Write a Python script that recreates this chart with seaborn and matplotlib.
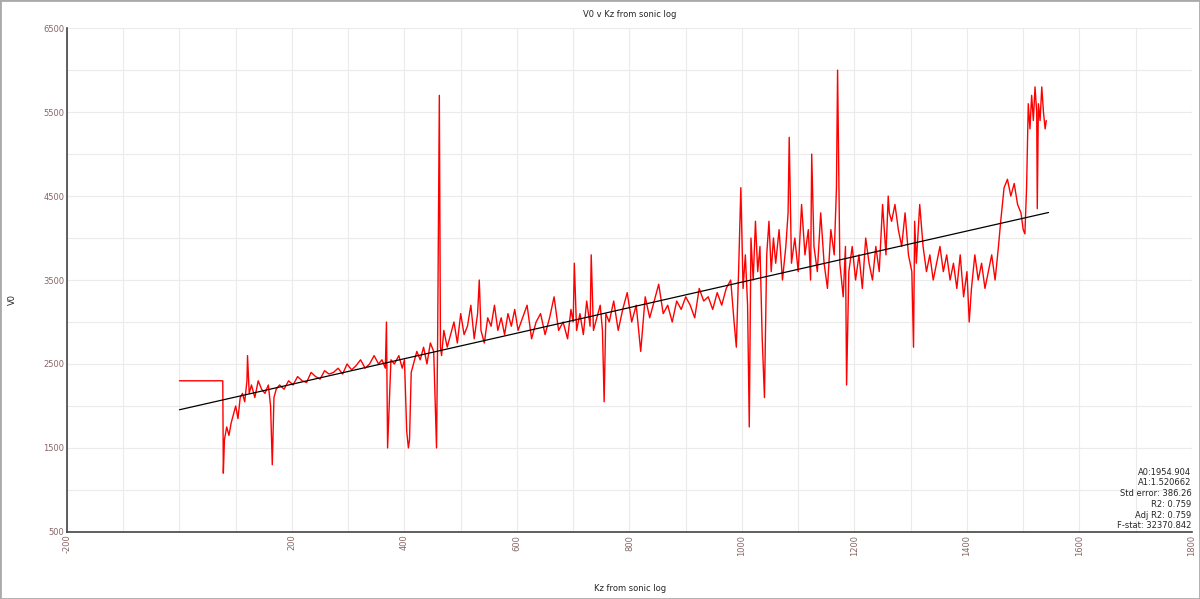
import matplotlib
matplotlib.use("Agg")
import matplotlib.pyplot as plt
import seaborn as sns
import numpy as np
import pandas as pd

kz = [0, 77, 78, 80, 84, 88, 92, 96, 100, 104, 108, 112, 116, 120, 121, 124, 128, 134, 140, 146, 152, 158, 162, 165, 168, 172, 178,
      186, 194, 202, 210, 218, 226, 234, 242, 250, 258, 266, 274, 282, 290, 298, 306, 314, 322, 330, 338, 346, 354, 360, 366, 368, 370,
      376, 382, 390, 396, 400, 404, 407, 409, 412, 416, 422, 428, 434, 440, 446, 452, 457, 459, 462, 464, 466, 470,
      476, 482, 488, 494, 500, 506, 512, 518, 524, 530, 533, 536, 542, 548, 554, 560, 566, 572, 578, 584, 590, 596,
      602, 610, 618, 626, 634, 642, 650, 658, 666, 674, 682, 690, 696, 700, 702, 706, 712, 718, 724, 730, 732, 736, 742, 748, 752, 755, 758,
      764, 772, 780, 788, 796, 804, 812, 820, 828, 836, 844, 852, 860, 868, 876, 884, 892, 900, 908, 916, 924, 932, 940, 948, 956, 964,
      972, 980, 986, 990, 994, 998, 1002, 1006, 1010, 1013, 1016, 1020, 1024, 1028, 1032, 1036, 1040, 1044, 1048, 1052, 1056, 1060,
      1066, 1072, 1078, 1082, 1084, 1088, 1094, 1100, 1106, 1112, 1118, 1122, 1124, 1128, 1134, 1140, 1146, 1152, 1158, 1164, 1168, 1170,
      1174, 1180, 1184, 1186, 1190, 1196, 1202, 1208, 1214, 1220, 1226, 1232, 1238, 1244, 1250, 1256, 1260, 1262, 1266, 1272, 1278,
      1284, 1290, 1296, 1302, 1305, 1307, 1310, 1316, 1322, 1328, 1334, 1340, 1346, 1352, 1358, 1364, 1370, 1376, 1382, 1388, 1394, 1400,
      1404, 1408, 1414, 1420, 1426, 1432, 1438, 1444, 1450, 1456, 1460, 1466, 1472, 1478, 1484, 1490, 1496, 1500, 1503, 1506, 1509,
      1512, 1515, 1518, 1521, 1524, 1525, 1527, 1530, 1533, 1536, 1539, 1541]
v0 = [2300, 2300, 1200, 1600, 1750, 1650, 1800, 1900, 2000, 1850, 2100, 2150, 2050, 2300, 2600, 2150, 2250, 2100, 2300, 2200, 2150, 2250, 2000, 1300, 2100, 2200, 2250,
      2200, 2300, 2250, 2350, 2300, 2280, 2400, 2350, 2320, 2420, 2380, 2400, 2450, 2380, 2500, 2430, 2480, 2550, 2450, 2500, 2600, 2500, 2550, 2450, 3000, 1500,
      2550, 2500, 2600, 2450, 2550, 1700, 1500, 1600, 2400, 2500, 2650, 2550, 2700, 2500, 2750, 2650, 1500, 2800, 5700, 2700, 2600, 2900,
      2700, 2850, 3000, 2750, 3100, 2850, 2950, 3200, 2800, 3100, 3500, 2900, 2750, 3050, 2950, 3200, 2900, 3050, 2850, 3100, 2950, 3150,
      2900, 3050, 3200, 2800, 3000, 3100, 2850, 3050, 3300, 2900, 3000, 2800, 3150, 3000, 3700, 2900, 3100, 2850, 3250, 2950, 3800, 2900, 3050, 3200, 2900, 2050, 3100,
      3000, 3250, 2900, 3150, 3350, 3000, 3200, 2650, 3300, 3050, 3250, 3450, 3100, 3200, 3000, 3250, 3150, 3300, 3200, 3050, 3400, 3250, 3300, 3150, 3350, 3200,
      3400, 3500, 3000, 2700, 3600, 4600, 3400, 3800, 3200, 1750, 4000, 3500, 4200, 3600, 3900, 2800, 2100, 3800, 4200, 3600, 4000, 3700,
      4100, 3500, 3900, 4300, 5200, 3700, 4000, 3600, 4400, 3800, 4100, 3500, 5000, 3900, 3600, 4300, 3700, 3400, 4100, 3800, 4600, 6000,
      3700, 3300, 3900, 2250, 3600, 3900, 3500, 3800, 3400, 4000, 3700, 3500, 3900, 3600, 4400, 3800, 4500, 4300, 4200, 4400, 4100,
      3900, 4300, 3800, 3600, 2700, 4200, 3700, 4400, 3900, 3600, 3800, 3500, 3700, 3900, 3600, 3800, 3500, 3700, 3400, 3800, 3300, 3600,
      3000, 3400, 3800, 3500, 3700, 3400, 3600, 3800, 3500, 3900, 4200, 4600, 4700, 4500, 4650, 4400, 4300, 4100, 4050, 4600, 5600,
      5300, 5700, 5400, 5800, 5500, 4350, 5600, 5400, 5800, 5500, 5300, 5400]

a0, a1 = 1954.904, 1.520662
fit_x = [0, 1545]
fit_y = [a0 + a1 * x for x in fit_x]

sns.set_style("whitegrid")
fig = plt.figure(figsize=(12, 5.99), dpi=100)
ax = fig.add_axes([0.0558, 0.112, 0.9375, 0.841])
sns.lineplot(x=kz, y=v0, ax=ax, color="#ff0000", linewidth=1.0, estimator=None, sort=False)
sns.lineplot(x=fit_x, y=fit_y, ax=ax, color="black", linewidth=0.9)
ax.set_xlim(-200, 1800)
ax.set_ylim(500, 6500)
ax.set_xticks(np.arange(-200, 1801, 100), minor=False)
ax.set_xticklabels(["-200", "", "", "", "200", "", "400", "", "600", "", "800", "", "1000", "", "1200", "", "1400", "", "1600", "", "1800"],
                   rotation=90, fontsize=6, color="#886666")
ax.set_yticks(np.arange(500, 6501, 500))
ax.set_yticklabels([str(v) if v % 1000 == 500 else "" for v in range(500, 6501, 500)], fontsize=6, color="#886666")
ax.tick_params(length=0, pad=2)
ax.grid(True, color="#ebebeb", linewidth=0.8)
for s in ["top", "right"]:
    ax.spines[s].set_visible(False)
for s in ["left", "bottom"]:
    ax.spines[s].set_visible(True)
    ax.spines[s].set_color("#444444")
    ax.spines[s].set_linewidth(1.2)
ax.set_title("V0 v Kz from sonic log", fontsize=6, pad=8)
fig.text(0.525, 0.017, "Kz from sonic log", fontsize=6, ha="center", va="center")
fig.text(0.010, 0.50, "V0", fontsize=6, ha="center", va="center", rotation=90)
stats = "A0:1954.904\nA1:1.520662\nStd error: 386.26\nR2: 0.759\nAdj R2: 0.759\nF-stat: 32370.842"
ax.text(0.9995, 0.003, stats, transform=ax.transAxes, ha="right", va="bottom", fontsize=6, linespacing=1.25)
fig.patches.append(plt.Rectangle((0, 0), 1, 1, transform=fig.transFigure, fill=False, edgecolor="#aaaaaa", linewidth=2))
fig.savefig("out.png", dpi=100)
